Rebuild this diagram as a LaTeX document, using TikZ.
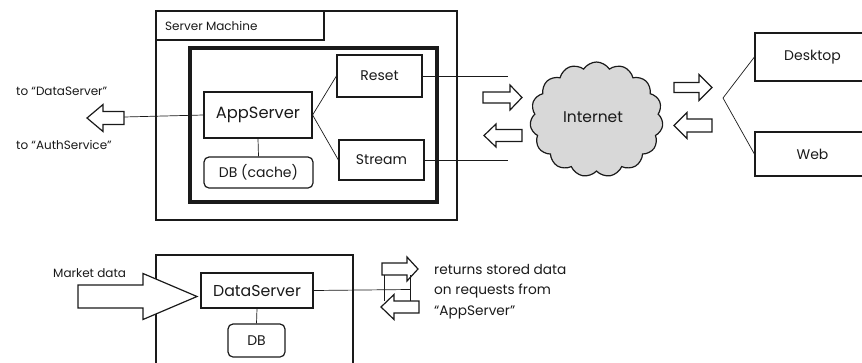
\documentclass[tikz,border=0pt]{standalone}
\usepackage{fontspec}
\setmainfont{Poppins}
\usetikzlibrary{shapes.symbols}
\definecolor{ink}{HTML}{1A1A1A}
\definecolor{cloudgray}{HTML}{D8D8D8}

% hollow block arrow: tail x, tip x, centre y, head-base x, body half-height, head half-height
\newcommand\blockarrow[6]{%
  \draw[fatline] (#1,#3-#5) -- (#4,#3-#5) -- (#4,#3-#6) -- (#2,#3)
    -- (#4,#3+#6) -- (#4,#3+#5) -- (#1,#3+#5) -- cycle;}

\begin{document}
\begin{tikzpicture}[x=1pt,y=-1pt,
  box/.style={draw=ink, line width=1.2pt, inner sep=0pt, text=ink, font=\fontsize{14}{16}\selectfont},
  bigbox/.style={box, font=\fontsize{16.3}{18}\selectfont},
  dbbox/.style={box, rounded corners=5pt},
  frame/.style={draw=ink, line width=1.2pt},
  thickframe/.style={draw=ink, line width=3.2pt},
  link/.style={draw=ink, line width=0.7pt},
  fatline/.style={draw=ink, line width=1.2pt, fill=white, line join=miter},
  small/.style={inner sep=0pt, text=ink, font=\fontsize{12}{14}\selectfont},
  note/.style={inner sep=0pt, text=ink, font=\fontsize{13.7}{16}\selectfont},
]
\useasboundingbox (0,0) rectangle (862,362);
\clip (0,0) rectangle (862,362);

% ---- server machine ----
\draw[frame] (156,11) rectangle (457,220);
\draw[frame] (156,11) rectangle (324,40);
\node[small, anchor=west] (smlabel) at (165,26) {Server Machine};
\draw[thickframe] (190,48) rectangle (437,202);

\node[bigbox, minimum width=108pt, minimum height=46pt] (app) at (258,115) {AppServer};
\node[box, minimum width=85pt, minimum height=42pt] (reset) at (379.5,76) {Reset};
\node[box, minimum width=85pt, minimum height=40pt] (stream) at (381.5,160) {Stream};
\node[dbbox, minimum width=109pt, minimum height=31pt] (cache) at (258.5,172.5) {DB (cache)};

\draw[link] (app.east) -- (reset.west);
\draw[link] (app.east) -- (stream.west);
\draw[link] (app.south) -- (cache.north);

\coordinate (resetend) at (508,76);
\coordinate (streamend) at (508,160);
\draw[link] (reset.east) -- (resetend);
\draw[link] (stream.east) -- (streamend);

% outgoing requests
\coordinate (outtail) at (124,117);
\draw[link] (app.west) -- (outtail);
\blockarrow{124}{87}{118}{103}{6.5}{13.5}
\node[small, anchor=west] (todata) at (16,91) {to “DataServer”};
\node[small, anchor=west] (toauth) at (16,145) {to “AuthService”};

% ---- internet ----
\blockarrow{483}{522}{97.5}{510}{5.5}{12.5}
\blockarrow{522}{484}{135.5}{496}{6}{11.5}
\node[cloud, cloud puffs=15, cloud puff arc=115, cloud ignores aspect,
      draw=ink, line width=1.2pt, fill=cloudgray,
      minimum width=133pt, minimum height=115pt, inner sep=0pt] (net) at (596.5,119.5) {};
\node[inner sep=0pt, text=ink, font=\fontsize{15.5}{18}\selectfont] (netlabel) at (593,117) {Internet};

\blockarrow{674}{712}{87.5}{699}{5}{13}
\blockarrow{712}{674}{125.5}{687}{6.5}{13}

% ---- clients ----
\node[box, minimum width=115pt, minimum height=48pt] (desk) at (812.5,57) {Desktop};
\node[box, minimum width=115pt, minimum height=44pt] (web) at (812.5,154) {Web};
\coordinate (fork) at (723,98);
\draw[link] (desk.west) -- (fork) -- (web.west);

% ---- data server ----
\draw[frame] (156,255) rectangle (353,380);
\blockarrow{78}{197}{296.5}{143}{11.5}{23}
\node[small, anchor=west] (market) at (53,273) {Market data};
\node[box, font=\fontsize{15.8}{18}\selectfont, minimum width=112pt, minimum height=35pt] (ds) at (257,290.5) {DataServer};
\node[dbbox, minimum width=57pt, minimum height=33pt] (db) at (256.5,340.5) {DB};
\draw[link] (ds.south) -- (db.north);

\coordinate (dsend) at (410,289.5);
\draw[link] (ds.east) -- (dsend);
\blockarrow{382}{418}{269}{407}{6}{12}
\blockarrow{419}{381}{307}{394}{6}{12.5}
\draw[link] (384,275) -- (384,301);
\draw[link] (410,275) -- (410,301);
\node[note, anchor=west] (ret1) at (434,269) {returns stored data};
\node[note, anchor=west] (ret2) at (434,291) {on requests from};
\node[note, anchor=west] (ret3) at (434,312) {“AppServer”};
\end{tikzpicture}
\end{document}
